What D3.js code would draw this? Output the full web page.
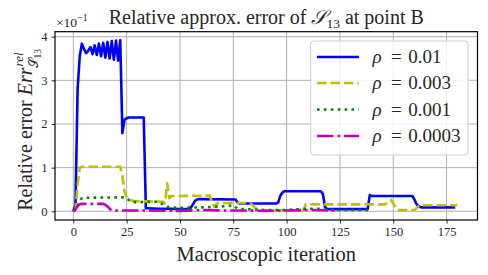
<!DOCTYPE html>
<html>
<head>
<meta charset="utf-8">
<script src="https://cdn.jsdelivr.net/npm/d3@7"></script>
<style>
  body { margin: 0; background: #fff; }
  text { font-family: 'Liberation Serif', 'DejaVu Serif', serif; fill: #262626; }
</style>
</head>
<body>
<div id="chart"></div>
<script>
// iterations / values (errors, axis shown x1e-1)
var blueIter = [0, 1, 2, 3, 4, 5, 6, 7, 8, 9, 10, 11, 12, 13, 14, 15, 16, 17, 18, 19, 20, 21, 22,
  23, 24, 25, 26, 33, 34, 35, 40, 45, 50, 54, 55, 56, 57, 58, 59, 76, 77, 78, 95, 96, 97, 98, 99,
  116, 117, 118, 119, 138, 139, 140, 159, 160, 161, 162, 163, 179];
var blueVal = [0, 0.015, 0.28, 0.355, 0.384, 0.372, 0.362, 0.368, 0.376, 0.36, 0.38, 0.358, 0.384, 0.355,
  0.386, 0.352, 0.388, 0.35, 0.39, 0.347, 0.391, 0.345, 0.392,
  0.179, 0.21, 0.213, 0.215, 0.215, 0.007, 0.007, 0.006, 0.006, 0.005, 0.005, 0.008, 0.015, 0.024, 0.027, 0.028,
  0.027, 0.02, 0.018, 0.018, 0.02, 0.035, 0.043, 0.046,
  0.046, 0.04, 0.01, 0.005, 0.005, 0.037, 0.035, 0.035, 0.026, 0.016, 0.011, 0.009, 0.009];

var yellowIter = [0, 1, 2, 3, 4, 22, 23, 24, 25, 26, 27, 29, 42, 43, 44, 45, 46, 64, 65, 66, 67, 68,
  83, 84, 85, 86, 87, 108, 109, 146, 148, 149, 150, 151, 152, 160, 161, 162, 163, 180];
var yellowVal = [0, 0.003, 0.06, 0.1, 0.102, 0.102, 0.08, 0.045, 0.033, 0.028, 0.025, 0.023, 0.022, 0.018,
  0.064, 0.03, 0.035, 0.036, 0.02, 0.01, 0.016, 0.019,
  0.019, 0.014, 0.009, 0.006, 0.002, 0.002, 0.016, 0.016, 0.02, 0.026, 0.018, 0.01, 0.003, 0.003, 0.008,
  0.012, 0.014, 0.014];

var greenIter = [0, 1, 2, 3, 4, 5, 24, 25, 26, 27, 28, 40, 42, 44, 46, 48, 60, 65, 72, 75, 77, 80,
  90, 100, 110, 115, 118, 125, 139];
var greenVal = [0, 0.004, 0.012, 0.022, 0.03, 0.031, 0.032, 0.03, 0.026, 0.022, 0.021, 0.022, 0.016,
  0.011, 0.009, 0.008, 0.009, 0.01, 0.012, 0.014, 0.006, 0.005,
  0.003, 0.003, 0.006, 0.006, 0.004, 0.003, 0.003];

var magentaIter = [0, 1, 2, 3, 4, 14, 15, 16, 17, 18, 30, 50, 60, 70, 80, 90, 100, 110, 124];
var magentaVal = [0, 0.004, 0.012, 0.016, 0.017, 0.017, 0.015, 0.011, 0.006, 0.002, 0.002, 0.001,
  0.003, 0.002, 0.002, 0.001, 0.002, 0.003, 0.002];

var rhoLabels = ['0.01', '0.003', '0.001', '0.0003'];
var xTicks = [0, 25, 50, 75, 100, 125, 150, 175];
var yTicks = [0, 0.1, 0.2, 0.3, 0.4];
var yTickLabels = ['0', '1', '2', '3', '4'];

var series = [
  { it: blueIter, val: blueVal, color: '#0000ff', dash: null },
  { it: yellowIter, val: yellowVal, color: '#bfbf00', dash: '9.5,4' },
  { it: greenIter, val: greenVal, color: '#008000', dash: '2.6,4.3' },
  { it: magentaIter, val: magentaVal, color: '#bf00bf', dash: '16.5,4,2.6,4' }
];

var W = 488, H = 275;
var pL = 55, pR = 477.5, pT = 31.7, pB = 220;

var svg = d3.select('#chart').append('svg')
  .attr('width', W).attr('height', H);

var x = d3.scaleLinear().domain([-8.6, 189.5]).range([pL, pR]);
var y = d3.scaleLinear().domain([-0.0199, 0.4114]).range([pB, pT]);

// grid
svg.append('g').selectAll('line').data(xTicks).enter().append('line')
  .attr('x1', function(d) { return x(d); }).attr('x2', function(d) { return x(d); })
  .attr('y1', pT).attr('y2', pB)
  .attr('stroke', '#b0b0b0').attr('stroke-width', 1);
svg.append('g').selectAll('line').data(yTicks).enter().append('line')
  .attr('y1', function(d) { return y(d); }).attr('y2', function(d) { return y(d); })
  .attr('x1', pL).attr('x2', pR)
  .attr('stroke', '#b0b0b0').attr('stroke-width', 1);

// lines
svg.append('clipPath').attr('id', 'clip').append('rect')
  .attr('x', pL).attr('y', pT).attr('width', pR - pL).attr('height', pB - pT);

var line = d3.line()
  .x(function(d) { return x(d[0]); })
  .y(function(d) { return y(d[1]); });

series.forEach(function(s) {
  var pts = s.it.map(function(v, i) { return [v, s.val[i]]; });
  svg.append('path')
    .attr('d', line(pts))
    .attr('fill', 'none')
    .attr('stroke', s.color)
    .attr('stroke-width', 2.6)
    .attr('stroke-linejoin', 'round')
    .attr('stroke-dasharray', s.dash)
    .attr('clip-path', 'url(#clip)');
});

// axes
var xAxis = svg.append('g').attr('transform', 'translate(0,' + pB + ')')
  .call(d3.axisBottom(x).tickValues(xTicks).tickSize(3.5).tickPadding(4));
var yAxis = svg.append('g').attr('transform', 'translate(' + pL + ',0)')
  .call(d3.axisLeft(y).tickValues(yTicks).tickSize(3.5).tickPadding(4)
    .tickFormat(function(d, i) { return yTickLabels[i]; }));
[xAxis, yAxis].forEach(function(a) {
  a.select('.domain').remove();
  a.selectAll('line').attr('stroke', '#262626').attr('stroke-width', 1);
  a.selectAll('text').style('font-family', "'Liberation Serif', serif")
    .style('font-size', '12.5px').attr('fill', '#262626');
});

// spines
svg.append('rect')
  .attr('x', pL).attr('y', pT).attr('width', pR - pL).attr('height', pB - pT)
  .attr('fill', 'none').attr('stroke', '#000').attr('stroke-width', 1.2);

// offset text
var off = svg.append('text').attr('x', pL + 1).attr('y', 26.5).style('font-size', '13.5px');
off.append('tspan').text('\u00d710');
off.append('tspan').attr('dy', -5.5).style('font-size', '10px').text('\u22121');

// title
var title = svg.append('text').attr('x', (pL + pR) / 2).attr('y', 23.5)
  .attr('text-anchor', 'middle').style('font-size', '20px');
title.append('tspan').text('Relative approx. error of ');
title.append('tspan').style('font-style', 'italic').text('\ud835\udcae');
title.append('tspan').attr('dy', 4).style('font-size', '13.5px').text('13');
title.append('tspan').attr('dy', -4).text(' at point B');

// x label
svg.append('text').attr('x', (pL + pR) / 2).attr('y', 261)
  .attr('text-anchor', 'middle').style('font-size', '20.5px')
  .text('Macroscopic iteration');

// y label
var yl = svg.append('text')
  .attr('transform', 'translate(32,' + ((pT + pB) / 2 + 4) + ') rotate(-90)')
  .attr('text-anchor', 'middle').style('font-size', '20px');
yl.append('tspan').text('Relative error ');
yl.append('tspan').style('font-style', 'italic').text('Err');
yl.append('tspan').attr('dx', 1).attr('dy', -9).style('font-size', '13px').style('font-style', 'italic').text('rel');
yl.append('tspan').attr('dx', -16).attr('dy', 15).style('font-size', '13px').text('\ud835\udcae');
yl.append('tspan').attr('dy', 2.5).style('font-size', '9.5px').text('13');

// legend
var lg = svg.append('g');
lg.append('rect').attr('x', 310.7).attr('y', 41).attr('width', 157.3).attr('height', 114)
  .attr('rx', 3).attr('fill', '#fff').attr('fill-opacity', 0.8)
  .attr('stroke', '#cccccc').attr('stroke-width', 1);
var legendY = [57, 83, 109.5, 136];
series.forEach(function(s, i) {
  lg.append('line').attr('x1', 317).attr('x2', 359)
    .attr('y1', legendY[i]).attr('y2', legendY[i])
    .attr('stroke', s.color).attr('stroke-width', 2.6)
    .attr('stroke-dasharray', s.dash);
  var t = lg.append('text').attr('y', legendY[i] + 6.3).style('font-size', '19px');
  t.append('tspan').attr('x', 372.5).style('font-style', 'italic').text('\u03c1');
  t.append('tspan').attr('x', 391).text('=');
  t.append('tspan').attr('x', 408.3).text(rhoLabels[i]);
});
</script>
</body>
</html>
